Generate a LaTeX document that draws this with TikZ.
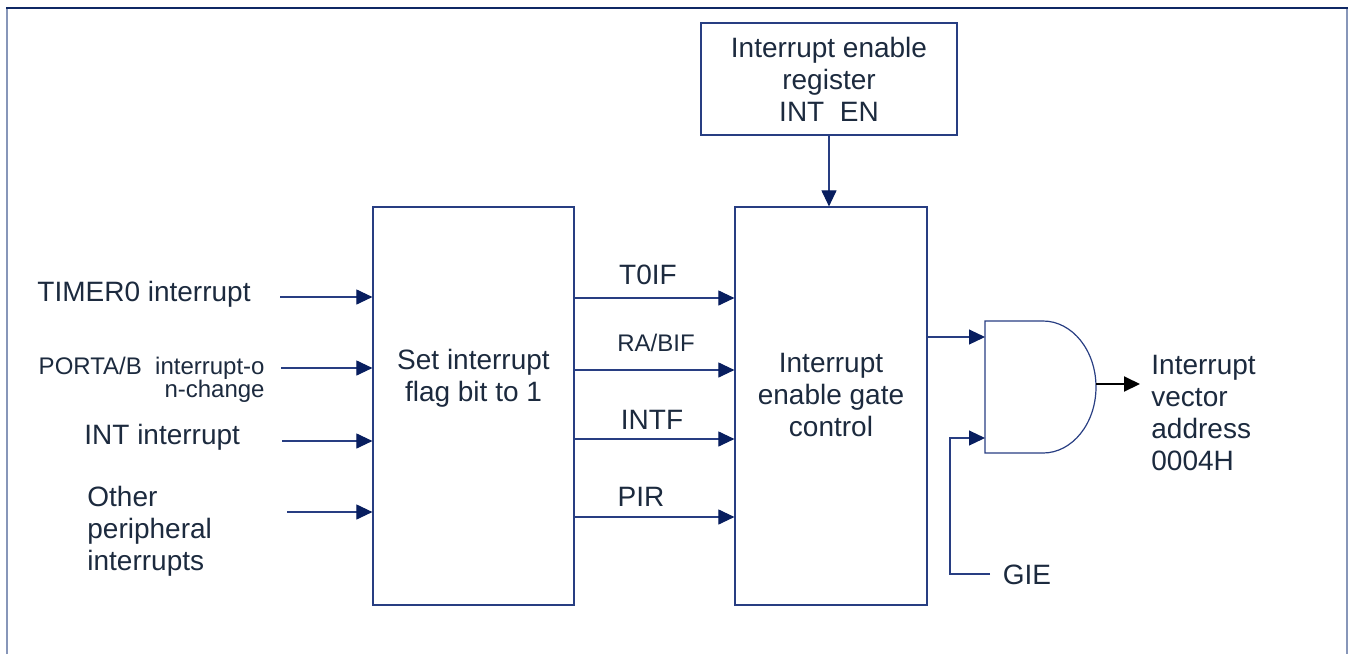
\documentclass[tikz,border=0pt]{standalone}
\usepackage{fontspec}
\setmainfont{Liberation Sans}
\usetikzlibrary{arrows.meta}
\definecolor{ln}{RGB}{40,62,130}
\definecolor{tipc}{RGB}{8,30,95}
\definecolor{txt}{RGB}{28,42,62}
\definecolor{frameside}{RGB}{135,150,185}
\definecolor{frametop}{RGB}{15,40,100}
\begin{document}
\begin{tikzpicture}[x=0.5pt,y=-0.5pt,
  every node/.style={text=txt, font=\fontsize{14}{16}\selectfont, inner sep=0pt},
  box/.style={draw=ln, line width=0.6pt},
  arr/.style={draw=ln, line width=0.55pt, -{Triangle[length=8pt,width=7.5pt,color=tipc]}},
  small/.style={font=\fontsize{12}{11.5}\selectfont}]
\useasboundingbox (0,0) rectangle (1355,654);
% frame
\draw[frameside, line width=1.1pt] (7,654) -- (7,8);
\draw[frameside, line width=1.1pt] (1347,8) -- (1347,654);
\draw[frametop, line width=0.8pt] (6,8) -- (1348,8);
% boxes
\node[box, minimum width=128pt, minimum height=56pt, align=center] (reg) at (829,79) {Interrupt enable\\register\\INT\ \ EN};
\node[box, minimum width=100.5pt, minimum height=199pt] (setb) at (473.5,406) {};
\node[box, minimum width=96pt, minimum height=199pt] (mid) at (831,406) {};
\node[align=center] (settxt) at (473.5,378) {Set interrupt\\flag bit to 1};
\node[align=center] (gatetxt) at (831,395) {Interrupt\\enable gate\\control};
% left labels
\node[anchor=west] (l1) at (37,294) {TIMER0 interrupt};
\node[small, align=right, anchor=east] (l2) at (265,380) {PORTA/B\ \ interrupt-o\\n-change};
\node[anchor=west] (l3) at (84,437) {INT interrupt};
\node[anchor=west, align=left] (l4) at (87,531) {Other\\peripheral\\interrupts};
% inputs
\coordinate (i1) at (280,297);
\coordinate (i2) at (281,368);
\coordinate (i3) at (282,441);
\coordinate (i4) at (287,512);
\draw[arr] (i1) -- (i1 -| setb.west);
\draw[arr] (i2) -- (i2 -| setb.west);
\draw[arr] (i3) -- (i3 -| setb.west);
\draw[arr] (i4) -- (i4 -| setb.west);
% flags
\coordinate (f1) at (600,298);
\coordinate (f2) at (600,370);
\coordinate (f3) at (600,439);
\coordinate (f4) at (600,517);
\draw[arr] (f1 -| setb.east) -- (f1 -| mid.west);
\draw[arr] (f2 -| setb.east) -- (f2 -| mid.west);
\draw[arr] (f3 -| setb.east) -- (f3 -| mid.west);
\draw[arr] (f4 -| setb.east) -- (f4 -| mid.west);
\node (t0if) at (648,275) {T0IF};
\node[small] (rabif) at (656,343) {RA/BIF};
\node (intf) at (652,420) {INTF};
\node (pir) at (641,497) {PIR};
% register to gate control
\draw[arr] (reg.south) -- (reg.south |- mid.north);
% AND gate
\draw[ln, line width=0.6pt] (985,321) -- (1043,321) arc[start angle=90, end angle=-90, x radius=26.5pt, y radius=33pt] -- (985,453) -- cycle;
\coordinate (gin1) at (985,337);
\coordinate (gin2) at (985,438);
\coordinate (gout) at (1096,384);
\coordinate (oend) at (1140,384);
\draw[arr] (mid.east |- gin1) -- (gin1);
\node (gie) at (1027,575) {GIE};
\coordinate (gs) at (990,574);
\coordinate (gc) at (950,574);
\draw[arr] (gs) -- (gc) |- (gin2);
\draw[black, line width=1pt, -{Triangle[length=8pt,width=7.5pt]}] (gout) -- (oend);
\node[anchor=west, align=left] (vec) at (1151,413) {Interrupt\\vector\\address\\0004H};
\end{tikzpicture}
\end{document}
